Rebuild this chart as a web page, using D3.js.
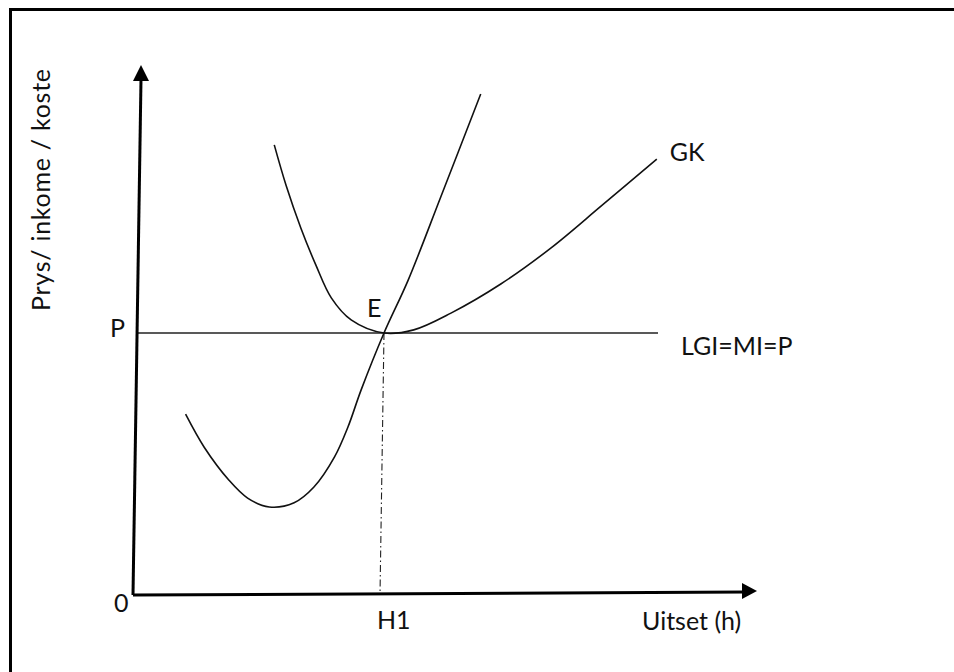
<!DOCTYPE html>
<html>
<head>
<meta charset="utf-8">
<script src="https://cdn.jsdelivr.net/npm/d3@7"></script>
<style>
  html, body { margin: 0; background: #fff; overflow: hidden; }
  svg { display: block; }
  text { font-family: Lato, "Open Sans", sans-serif; font-size: 25px; fill: #111; }
</style>
</head>
<body>
<script>
// grensekoste (MI / marginale koste) - steil U-kurwe
var mkX = [8, 11, 15, 18, 21.5, 25.5, 28.7, 32, 34.2, 36.3, 40, 43.9, 49.2, 55.6];
var mkY = [34.5, 28.2, 21.9, 18.5, 16.8, 17.6, 20.6, 26.3, 32.1, 39.1, 50, 60.1, 76.1, 95.6];

// gemiddelde koste (GK)
var gkX = [22.3, 24.2, 26.6, 29, 31.5, 34.7, 40, 44.8, 50.8, 58.9, 66.9, 75, 84];
var gkY = [85.9, 78.2, 70, 63, 56.7, 52.5, 50, 50.6, 53.8, 59.4, 66.2, 74.2, 83.2];

// prys vlak en ewewig
var prysVlak = 50;
var prysEinde = 84.2;
var ewewigX = 40;
var asMaks = 100;

var width = 954, height = 672;

var svg = d3.select("body").append("svg")
    .attr("width", width)
    .attr("height", height);

// raam
svg.append("rect")
    .attr("x", 10.5).attr("y", 9.5)
    .attr("width", 980).attr("height", 700)
    .attr("fill", "none")
    .attr("stroke", "#000")
    .attr("stroke-width", 3);

var x = d3.scaleLinear().domain([0, 100]).range([136, 756]);
var y = d3.scaleLinear().domain([0, 100]).range([595, 71]);

var line = d3.line()
    .x(function(d){ return x(d[0]); })
    .y(function(d){ return y(d[1]); })
    .curve(d3.curveCatmullRom.alpha(0.5));

// stippellyn van E na H1
svg.append("line")
    .attr("x1", x(ewewigX)).attr("y1", y(prysVlak))
    .attr("x2", x(ewewigX) - 4).attr("y2", y(0))
    .attr("stroke", "#222")
    .attr("stroke-width", 1.1)
    .attr("stroke-dasharray", "7,3,1.5,3");

// P lyn
svg.append("line")
    .attr("x1", x(0)).attr("y1", y(prysVlak))
    .attr("x2", x(prysEinde)).attr("y2", y(prysVlak))
    .attr("stroke", "#222")
    .attr("stroke-width", 1.6);

// kurwes
svg.append("path")
    .datum(d3.zip(mkX, mkY))
    .attr("d", line)
    .attr("fill", "none")
    .attr("stroke", "#111")
    .attr("stroke-width", 1.6);

svg.append("path")
    .datum(d3.zip(gkX, gkY))
    .attr("d", line)
    .attr("fill", "none")
    .attr("stroke", "#111")
    .attr("stroke-width", 1.6);

// asse
svg.append("line")
    .attr("x1", x(0) - 3).attr("y1", y(0))
    .attr("x2", x(0) + 5).attr("y2", y(asMaks) + 8)
    .attr("stroke", "#000").attr("stroke-width", 3);
svg.append("path")
    .attr("d", "M" + (x(0) + 5) + "," + (y(asMaks) - 6) + " l-8,16 l16,0 z")
    .attr("fill", "#000");

svg.append("line")
    .attr("x1", x(0) - 3).attr("y1", y(0))
    .attr("x2", x(asMaks) - 10).attr("y2", y(0) - 3)
    .attr("stroke", "#000").attr("stroke-width", 3);
svg.append("path")
    .attr("d", "M" + (x(asMaks) + 1) + "," + (y(0) - 4) + " l-15,-8 l0,16 z")
    .attr("fill", "#000");

// byskrifte
svg.append("text").attr("x", x(0) - 26).attr("y", y(prysVlak) + 4).text("P");
svg.append("text").attr("x", x(0) - 22).attr("y", y(0) + 17).text("0");
svg.append("text").attr("x", x(ewewigX) - 7).attr("y", y(0) + 34).text("H1");
svg.append("text").attr("x", x(asMaks) - 114).attr("y", y(0) + 35).text("Uitset (h)");
svg.append("text").attr("x", x(ewewigX) - 17).attr("y", y(prysVlak) - 16).text("E");
svg.append("text").attr("x", x(gkX[gkX.length - 1]) + 13).attr("y", y(gkY[gkY.length - 1]) + 2).text("GK");
svg.append("text").attr("x", x(prysEinde) + 23).attr("y", y(prysVlak) + 22).text("LGI=MI=P");

svg.append("text")
    .attr("transform", "translate(50,190) rotate(-90)")
    .attr("text-anchor", "middle")
    .attr("textLength", 242)
    .text("Prys/ inkome / koste");
</script>
</body>
</html>
